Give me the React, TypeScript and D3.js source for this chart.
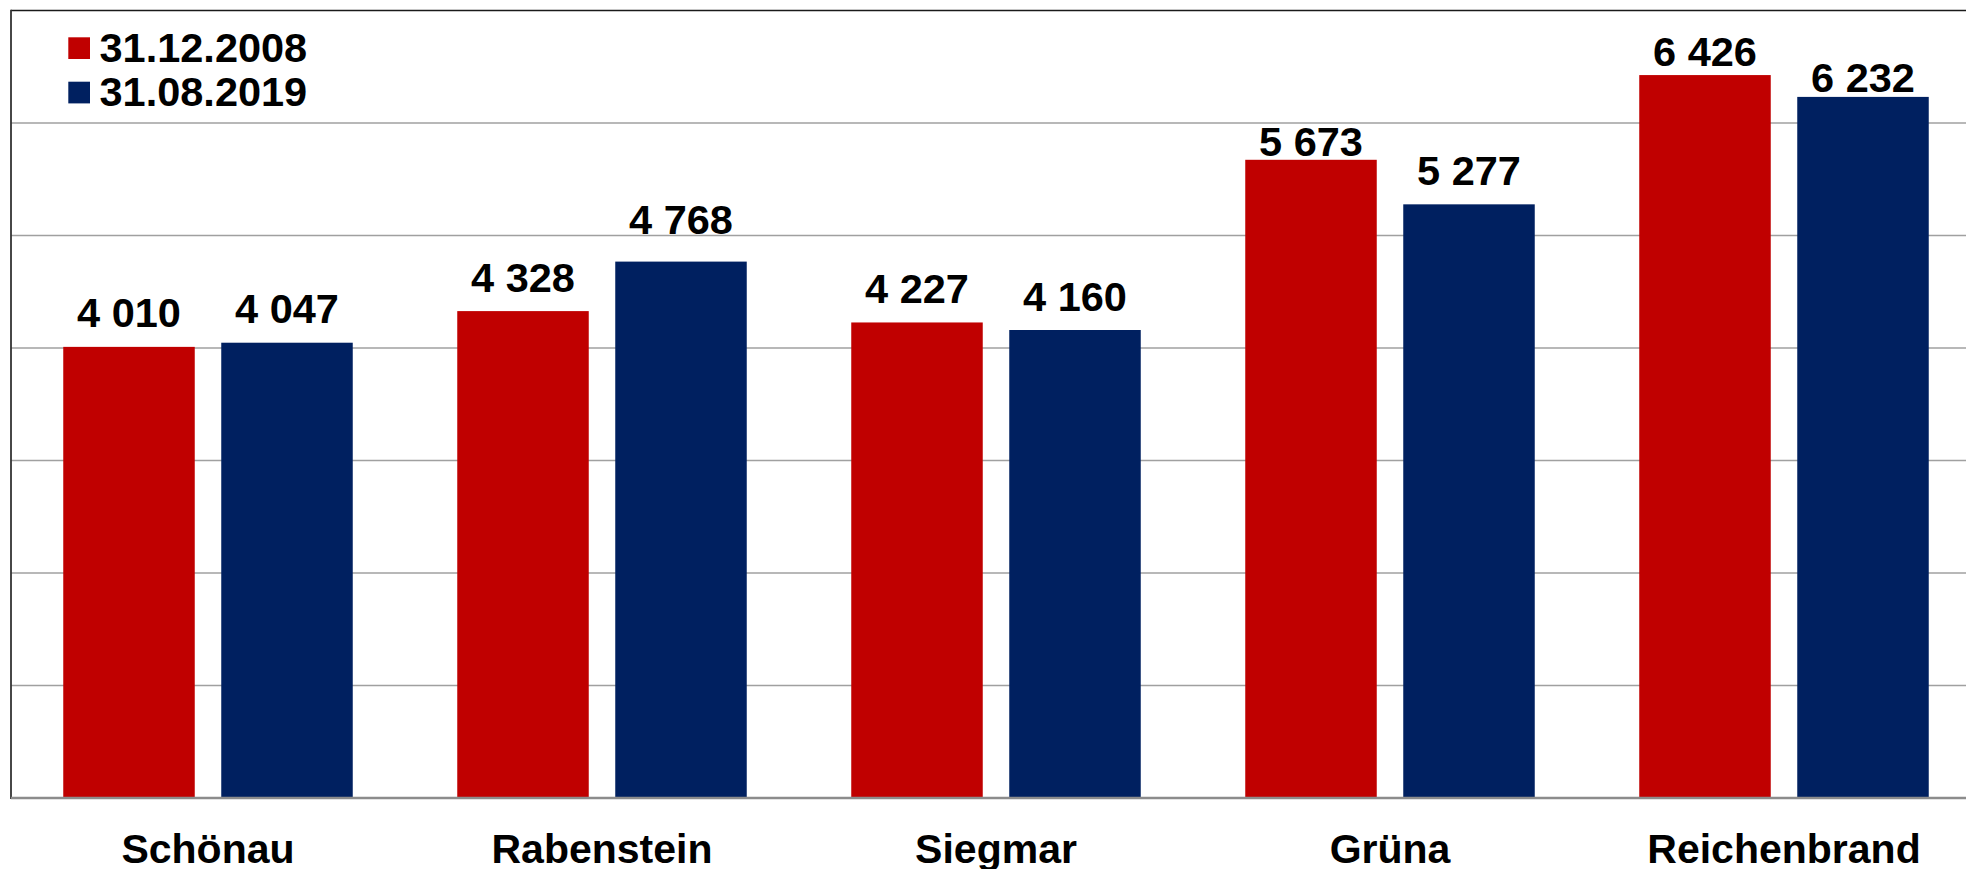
import React from "react";
import * as d3 from "d3";

const categories = ["Schönau", "Rabenstein", "Siegmar", "Grüna", "Reichenbrand"];
const seriesNames = ["31.12.2008", "31.08.2019"];
const values2008 = [4010, 4328, 4227, 5673, 6426];
const values2019 = [4047, 4768, 4160, 5277, 6232];
const yTicks = [0, 1000, 2000, 3000, 4000, 5000, 6000, 7000];
// manual label nudges (px, positive = moved down) as seen in the reference
const labelNudge2008 = [0, 0, 0, 15.5, 10];
const labelNudge2019 = [0, -8, 0, 0, 14.5];

const colors = ["#C00000", "#002060"];
const W = 1966;
const H = 869;
const FONT = "'Liberation Sans', Arial, sans-serif";

export default function App() {
  const left = 11;
  const top = 10.5;
  const bottom = 798;
  const x0 = d3.scaleBand<string>().domain(categories).range([left, left + 394 * 5]).paddingInner(0).paddingOuter(0);
  const x1 = d3.scaleBand<string>().domain(seriesNames).range([0, x0.bandwidth()]).paddingInner(0.1677).paddingOuter(0.3307);
  const y = d3.scaleLinear().domain([0, 7000]).range([bottom, top]);
  const series = [values2008, values2019];
  const nudges = [labelNudge2008, labelNudge2019];
  const fmt = (v: number) => d3.format(",")(v).replace(/,/g, " ");

  return (
    <svg width={W} height={H} style={{ position: "absolute", left: 0, top: 0, background: "#fff" }} fontFamily={FONT}>
      {yTicks.slice(1, -1).map((t) => (
        <line key={t} x1={left} x2={W} y1={y(t)} y2={y(t)} stroke="#a0a0a0" strokeWidth={1.6} />
      ))}
      <line x1={left} x2={W} y1={y(7000)} y2={y(7000)} stroke="#1a1a1a" strokeWidth={1.6} />
      {categories.map((c, i) =>
        series.map((vals, s) => (
          <rect
            key={c + s}
            x={(x0(c) as number) + (x1(seriesNames[s]) as number)}
            y={y(vals[i])}
            width={x1.bandwidth()}
            height={y(0) - y(vals[i])}
            fill={colors[s]}
          />
        ))
      )}
      <line x1={left} x2={left} y1={top - 0.8} y2={bottom + 1} stroke="#333" strokeWidth={1.8} />
      <line x1={left} x2={W} y1={bottom} y2={bottom} stroke="#8c8c8c" strokeWidth={2.4} />
      {categories.map((c, i) =>
        series.map((vals, s) => (
          <text
            key={"l" + c + s}
            x={(x0(c) as number) + (x1(seriesNames[s]) as number) + x1.bandwidth() / 2}
            y={y(vals[i]) - 19.5 + nudges[s][i]}
            textAnchor="middle"
            fontWeight="bold"
            fontSize={41.5}
            fill="#000"
          >
            {fmt(vals[i])}
          </text>
        ))
      )}
      {categories.map((c) => (
        <text
          key={"c" + c}
          x={(x0(c) as number) + x0.bandwidth() / 2}
          y={862.5}
          textAnchor="middle"
          fontWeight="bold"
          fontSize={41}
          fill="#000"
        >
          {c}
        </text>
      ))}
      {seriesNames.map((n, s) => (
        <g key={n}>
          <rect x={68.3} y={37.3 + s * 44.4} width={21.7} height={21.7} fill={colors[s]} />
          <text x={99.5} y={62 + s * 43.6} fontWeight="bold" fontSize={41.5} fill="#000">
            {n}
          </text>
        </g>
      ))}
    </svg>
  );
}
